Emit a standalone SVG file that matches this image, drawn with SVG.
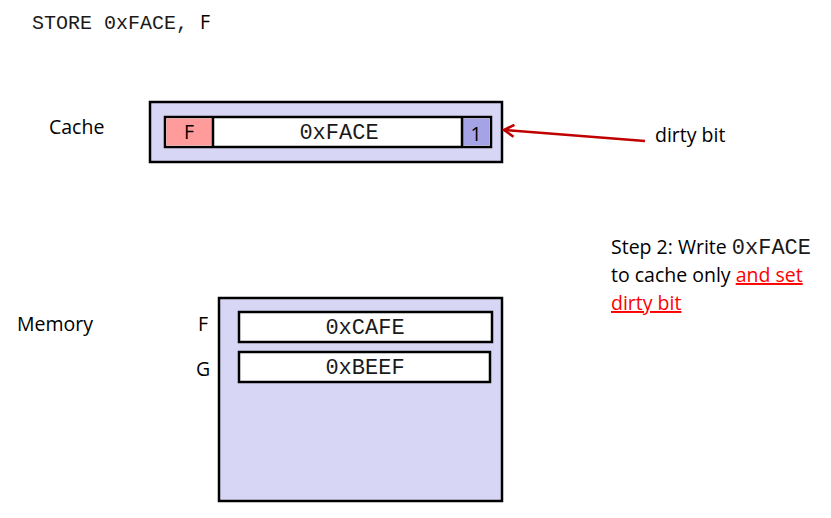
<svg xmlns="http://www.w3.org/2000/svg" width="831" height="518" viewBox="0 0 831 518">
<style>
.sans{font-family:"Open Sans","Liberation Sans",sans-serif;font-size:19.5px;fill:#000}
.mono{font-family:"Liberation Mono","Courier New",monospace;font-size:22px;fill:#1a1a1a}
.box{fill:#d7d7f5;stroke:#000;stroke-width:2.5}
.cell{stroke:#000;stroke-width:2.5}
.red{fill:#ff0000;text-decoration:underline}
</style>
<defs>
<marker id="ah" markerWidth="14" markerHeight="14" refX="12" refY="7" orient="auto" markerUnits="userSpaceOnUse">
<path d="M2,1 L12,7 L2,13" fill="none" stroke="#c00000" stroke-width="2.5"/>
</marker>
</defs>
<rect width="831" height="518" fill="#fff"/>
<text class="mono" x="32" y="29" style="font-size:20px">STORE 0xFACE,<tspan class="sans" dx="12">F</tspan></text>
<g id="cache">
<text class="sans" x="49" y="134">Cache</text>
<rect class="box" x="150" y="102" width="352" height="60"/>
<rect class="cell" x="165" y="117" width="326" height="30" fill="#fff"/>
<rect x="166.5" y="118.5" width="46" height="27" fill="#ff9b9b"/>
<line x1="213" y1="117" x2="213" y2="147" stroke="#000" stroke-width="2.5"/>
<rect x="463" y="118.5" width="26.5" height="27" fill="#a3a3e6"/>
<line x1="462" y1="117" x2="462" y2="147" stroke="#000" stroke-width="2.5"/>
<text class="sans" x="189" y="139" text-anchor="middle">F</text>
<text class="mono" x="339" y="139" text-anchor="middle">0xFACE</text>
<text class="sans" x="476" y="141" text-anchor="middle">1</text>
</g>
<g id="memory">
<text class="sans" x="17" y="331">Memory</text>
<rect class="box" x="219" y="298" width="283" height="203"/>
<text class="sans" x="198" y="331">F</text>
<rect class="cell" x="239" y="312" width="253" height="30" fill="#fff"/>
<text class="mono" x="365" y="334" text-anchor="middle">0xCAFE</text>
<text class="sans" x="196" y="376">G</text>
<rect class="cell" x="239" y="352" width="251" height="30" fill="#fff"/>
<text class="mono" x="365" y="374" text-anchor="middle">0xBEEF</text>
</g>
<g id="connectors">
<line x1="645" y1="141" x2="504" y2="130" stroke="#c00000" stroke-width="2.5" marker-end="url(#ah)"/>
</g>
<g id="notes">
<text class="sans" x="655" y="142">dirty bit</text>
<text class="sans" x="611" y="254">Step 2: Write <tspan class="mono">0xFACE</tspan></text>
<text class="sans" x="611" y="282">to cache only <tspan class="red">and set</tspan></text>
<text class="sans" x="611" y="310"><tspan class="red">dirty bit</tspan></text>
</g>
</svg>
